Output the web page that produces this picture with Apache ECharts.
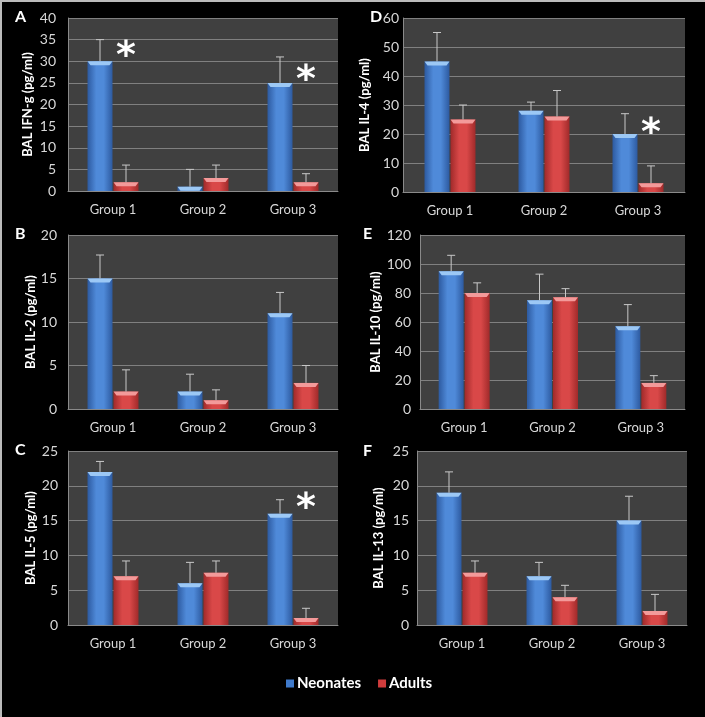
<!DOCTYPE html>
<html>
<head>
<meta charset="utf-8">
<script src="https://cdn.jsdelivr.net/npm/echarts@6/dist/echarts.min.js"></script>
<style>
html,body{margin:0;padding:0;background:#000;}
#c{width:705px;height:717px;}
</style>
</head>
<body>
<div id="c"></div>
<script>
// ---- data ----
const categories = ['Group 1', 'Group 2', 'Group 3'];
const seriesNames = ['Neonates', 'Adults'];

const ifngNeonates = [30, 1, 25];
const ifngNeonatesSD = [5, 4, 6];
const ifngAdults = [2, 3, 2];
const ifngAdultsSD = [4, 3, 2];
const ifngStars = [[0, 33], [2, 27.5]];

const il4Neonates = [45, 28, 20];
const il4NeonatesSD = [10, 3, 7];
const il4Adults = [25, 26, 3];
const il4AdultsSD = [5, 9, 6];
const il4Stars = [[2, 23]];

const il2Neonates = [15, 2, 11];
const il2NeonatesSD = [2.7, 2, 2.4];
const il2Adults = [2, 1, 3];
const il2AdultsSD = [2.5, 1.2, 2];
const il2Stars = [];

const il10Neonates = [95, 75, 57];
const il10NeonatesSD = [11, 18, 15];
const il10Adults = [80, 77, 18];
const il10AdultsSD = [7, 6, 5];
const il10Stars = [];

const il5Neonates = [22, 6, 16];
const il5NeonatesSD = [1.5, 3, 2];
const il5Adults = [7, 7.5, 1];
const il5AdultsSD = [2.2, 1.7, 1.4];
const il5Stars = [[2, 18]];

const il13Neonates = [19, 7, 15];
const il13NeonatesSD = [3, 2, 3.5];
const il13Adults = [7.5, 4, 2];
const il13AdultsSD = [1.7, 1.7, 2.4];
const il13Stars = [];

const panels = [
  {letter: 'A', title: 'BAL IFN-g (pg/ml)', max: 40, interval: 5, neo: ifngNeonates, neoSD: ifngNeonatesSD, ad: ifngAdults, adSD: ifngAdultsSD, stars: ifngStars,
   grid: {left: 68, top: 18, width: 270, height: 173}, lx: 15, ly: 18, gap: 34, lm: 12},
  {letter: 'D', title: 'BAL IL-4 (pg/ml)', max: 60, interval: 10, neo: il4Neonates, neoSD: il4NeonatesSD, ad: il4Adults, adSD: il4AdultsSD, stars: il4Stars,
   grid: {left: 403, top: 18, width: 282, height: 174}, lx: 370, ly: 18, gap: 32, lm: 4},
  {letter: 'B', title: 'BAL IL-2 (pg/ml)', max: 20, interval: 5, neo: il2Neonates, neoSD: il2NeonatesSD, ad: il2Adults, adSD: il2AdultsSD, stars: il2Stars,
   grid: {left: 68, top: 235, width: 270, height: 174}, lx: 15, ly: 235, gap: 31, lm: 11},
  {letter: 'E', title: 'BAL IL-10 (pg/ml)', max: 120, interval: 20, neo: il10Neonates, neoSD: il10NeonatesSD, ad: il10Adults, adSD: il10AdultsSD, stars: il10Stars,
   grid: {left: 420, top: 235, width: 265, height: 174}, lx: 363, ly: 235, gap: 33, lm: 9},
  {letter: 'C', title: 'BAL IL-5 (pg/ml)', max: 25, interval: 5, neo: il5Neonates, neoSD: il5NeonatesSD, ad: il5Adults, adSD: il5AdultsSD, stars: il5Stars,
   grid: {left: 68, top: 451, width: 270, height: 174}, lx: 15, ly: 451, gap: 31, lm: 10},
  {letter: 'F', title: 'BAL IL-13 (pg/ml)', max: 25, interval: 5, neo: il13Neonates, neoSD: il13NeonatesSD, ad: il13Adults, adSD: il13AdultsSD, stars: il13Stars,
   grid: {left: 417, top: 451, width: 270, height: 174}, lx: 363, ly: 452, gap: 32, lm: 8}
];

const BAR_W = 25;
const HALF_OFF = 13;
const FONT = 'Lato, "Liberation Sans", sans-serif';

const blueGrad = new echarts.graphic.LinearGradient(0, 0, 1, 0, [
  {offset: 0, color: '#2d5aa0'}, {offset: 0.35, color: '#4f8ad9'}, {offset: 0.65, color: '#4f8ad9'}, {offset: 1, color: '#2d5aa0'}]);
const redGrad = new echarts.graphic.LinearGradient(0, 0, 1, 0, [
  {offset: 0, color: '#a02a2a'}, {offset: 0.35, color: '#d94848'}, {offset: 0.65, color: '#d94848'}, {offset: 1, color: '#a02a2a'}]);
const capColors = ['#9cc8f5', '#f39a9a'];

const grids = [], xAxes = [], yAxes = [], series = [], graphics = [];

panels.forEach((p, gi) => {
  grids.push(Object.assign({show: true, backgroundColor: '#404040', borderWidth: 0}, p.grid));
  xAxes.push({
    type: 'category', gridIndex: gi, data: categories,
    axisTick: {show: false},
    axisLine: {lineStyle: {color: '#8a8a8a'}},
    axisLabel: {color: '#d8d8d8', fontSize: 13, fontFamily: FONT, margin: 12}
  });
  yAxes.push({
    type: 'value', gridIndex: gi, min: 0, max: p.max, interval: p.interval,
    name: p.title, nameLocation: 'middle', nameGap: p.gap,
    nameTextStyle: {color: '#ffffff', fontWeight: 'bold', fontSize: 13, fontFamily: FONT},
    axisLine: {show: true, lineStyle: {color: '#8a8a8a'}},
    axisTick: {show: false},
    splitLine: {lineStyle: {color: '#808080', width: 1}},
    axisLabel: {color: '#d8d8d8', fontSize: 14, fontFamily: FONT, margin: p.lm}
  });
  const sets = [[p.neo, p.neoSD, blueGrad, -HALF_OFF], [p.ad, p.adSD, redGrad, HALF_OFF]];
  sets.forEach((s, si) => {
    series.push({
      type: 'bar', name: seriesNames[si], xAxisIndex: gi, yAxisIndex: gi,
      data: s[0], barWidth: BAR_W, barGap: '4%',
      itemStyle: {color: s[2]}, z: 2
    });
  });
  sets.forEach((s, si) => {
    series.push({
      type: 'custom', xAxisIndex: gi, yAxisIndex: gi, z: 3, silent: true,
      data: s[0].map((v, i) => [i, v, v + s[1][i]]),
      renderItem: (params, api) => {
        const base = api.coord([api.value(0), api.value(1)]);
        const top = api.coord([api.value(0), api.value(2)]);
        const zero = api.coord([api.value(0), 0]);
        const x = base[0] + s[3];
        const y = base[1];
        const capH = Math.min(4, zero[1] - y);
        const hw = BAR_W / 2;
        return {
          type: 'group',
          children: [
            {type: 'polygon', shape: {points: [[x - hw, y], [x + hw, y], [x + hw - 3, y + capH], [x - hw + 3, y + capH]]},
             style: {fill: capColors[si]}},
            {type: 'line', shape: {x1: x, y1: y, x2: x, y2: top[1]}, style: {stroke: '#c8c8c8', lineWidth: 1}},
            {type: 'line', shape: {x1: x - 4, y1: top[1], x2: x + 4, y2: top[1]}, style: {stroke: '#c8c8c8', lineWidth: 1}}
          ]
        };
      }
    });
  });
  series.push({
    type: 'custom', xAxisIndex: gi, yAxisIndex: gi, z: 4, silent: true,
    data: p.stars,
    renderItem: (params, api) => {
      const pt = api.coord([api.value(0), api.value(1)]);
      return {type: 'text', x: pt[0] + HALF_OFF, y: pt[1] + 9,
        style: {text: '*', fill: '#ffffff', font: 'bold 38px "DejaVu Sans"', align: 'center', verticalAlign: 'middle'}};
    }
  });
  graphics.push({type: 'text', left: p.lx, top: p.ly - 9,
    style: {text: p.letter, fill: '#ffffff', font: 'bold 16px ' + FONT}});
});

graphics.push({type: 'line', shape: {x1: 0, y1: 1, x2: 705, y2: 1}, style: {stroke: '#bbbbbb', lineWidth: 2}});
graphics.push({type: 'line', shape: {x1: 1, y1: 0, x2: 1, y2: 717}, style: {stroke: '#bbbbbb', lineWidth: 2}});

const chart = echarts.init(document.getElementById('c'));
chart.setOption({
  backgroundColor: '#000000',
  animation: false,
  grid: grids, xAxis: xAxes, yAxis: yAxes, series: series,
  legend: {
    data: [{name: 'Neonates', itemStyle: {color: '#3f7acb'}}, {name: 'Adults', itemStyle: {color: '#d03c3c'}}],
    left: 281, top: 671, icon: 'rect', itemWidth: 8, itemHeight: 8, itemGap: 17,
    textStyle: {color: '#ffffff', fontWeight: 'bold', fontSize: 15, fontFamily: FONT, padding: [0, 0, 0, -2]}
  },
  graphic: graphics
});
</script>
</body>
</html>
